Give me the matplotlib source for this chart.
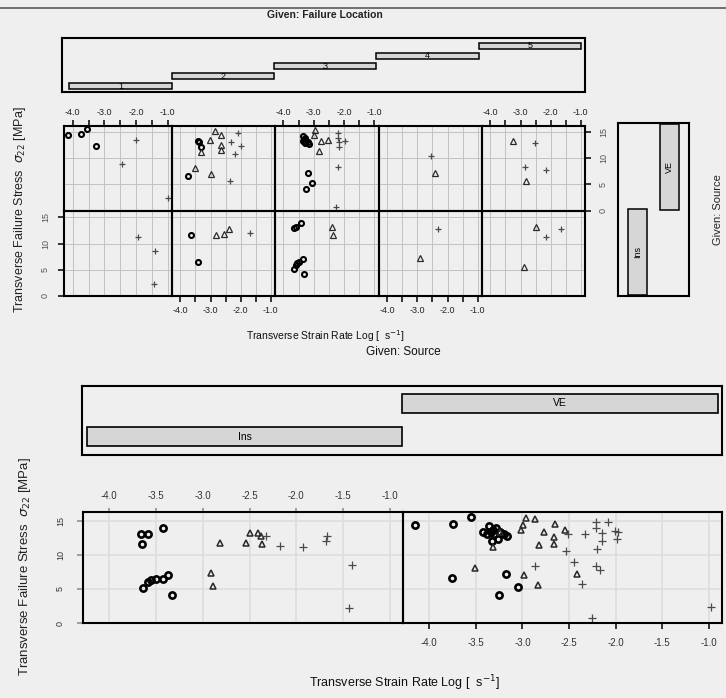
import matplotlib
matplotlib.use("Agg")
import matplotlib.pyplot as plt
from matplotlib.lines import Line2D
import numpy as np

plt.rcParams['font.family'] = ['Liberation Sans', 'DejaVu Sans']
plt.rcParams['axes.unicode_minus'] = False

W, H = 726, 698
PAPER = '#efefef'
STRIP = '#d6d6d6'

# ---------------------------------------------------------------- data
location_levels = [1, 2, 3, 4, 5]
source_levels = ["Ins", "VE"]

# VE source: failure location, specimen kind, log strain rate, failure stress
ve_loc = [1, 1, 1, 1, 1, 1, 1,
          2, 2, 2, 2, 2, 2, 2, 2, 2, 2, 2, 2, 2, 2, 2, 2, 2,
          3, 3, 3, 3, 3, 3, 3, 3, 3, 3, 3, 3, 3, 3, 3, 3, 3, 3, 3, 3, 3, 3, 3,
          4, 4,
          5, 5, 5, 5, 5]
ve_kind = ['o', 'o', 'o', 'o', '+', '+', '+',
           '^', '^', '^', '+', 'o', 'o', 'o', '^', '^', '^', '+', '+', '+', '^', 'o', '^', '+',
           'o', 'o', 'o', 'o', 'o', 'o', 'o', 'o', '^', '^', '^', '^', '^',
           '+', '+', '+', '+', '+', '+', '+', 'o', 'o', 'o',
           '+', '^',
           '^', '+', '+', '+', '^']
ve_rate = [-4.15, -3.74, -3.55, -3.26, -2.01, -2.45, -0.98,
           -2.86, -2.65, -3.01, -2.08, -3.42, -3.38, -3.33, -3.31, -2.66, -2.66, -2.33, -1.99,
           -2.20, -3.51, -3.76, -2.98, -2.36,
           -3.36, -3.32, -3.28, -3.24, -3.30, -3.20, -3.17, -3.34, -2.96, -2.99, -2.77, -2.54,
           -2.82, -2.21, -2.21, -2.15, -1.98, -2.15, -2.21, -2.25, -3.18, -3.05, -3.25,
           -2.53, -2.41,
           -3.24, -2.51, -2.86, -2.17, -2.83]
ve_stress = [14.4, 14.6, 15.6, 12.4, 13.5, 8.9, 2.4,
             15.3, 14.5, 13.6, 14.8, 13.3, 13.1, 12.1, 11.2, 12.6, 11.6, 13.1, 12.4,
             10.9, 8.1, 6.6, 7.0, 5.7,
             14.2, 13.6, 13.9, 13.3, 13.0, 13.1, 12.8, 13.4, 15.4, 14.4, 13.4, 13.6,
             11.4, 14.8, 13.9, 13.2, 13.4, 12.1, 8.4, 0.7, 7.2, 5.3, 4.1,
             10.5, 7.2,
             13.4, 13.0, 8.3, 7.8, 5.6]

# Ins source
ins_loc = [1, 1, 1,
           2, 2, 2, 2, 2, 2,
           3, 3, 3, 3, 3, 3, 3, 3, 3, 3, 3,
           4, 4,
           5, 5, 5, 5]
ins_kind = ['+', '+', '+',
            'o', '^', '^', '^', '+', 'o',
            'o', 'o', 'o', 'o', 'o', 'o', 'o', 'o', 'o', '^', '^',
            '+', '^',
            '^', '+', '+', '^']
ins_rate = [-1.93, -1.41, -1.44,
            -3.65, -2.82, -2.54, -2.38, -1.68, -3.42,
            -3.66, -3.58, -3.42, -3.64, -3.59, -3.55, -3.50, -3.37, -3.33, -2.41, -2.37,
            -2.32, -2.91,
            -2.50, -1.67, -2.17, -2.89]
ins_stress = [11.2, 8.5, 2.2,
              11.6, 11.7, 11.8, 12.8, 12.0, 6.4,
              13.0, 13.1, 13.9, 5.2, 6.0, 6.3, 6.4, 7.0, 4.1, 13.2, 11.6,
              12.8, 7.3,
              13.2, 12.8, 11.3, 5.5]

x_ticks = [-4.0, -3.5, -3.0, -2.5, -2.0, -1.5, -1.0]
y_ticks = [0, 5, 10, 15]
x_range = (-4.28, -0.86)
y_range = (0.0, 16.3)

data = {
    "Ins": (ins_loc, ins_kind, ins_rate, ins_stress),
    "VE": (ve_loc, ve_kind, ve_rate, ve_stress),
}

# ---------------------------------------------------------------- figure
fig = plt.figure(figsize=(W / 100, H / 100), dpi=100)
fig.patch.set_facecolor(PAPER)


def px_axes(l, t, r, b):
    ax = fig.add_axes([l / W, 1 - b / H, (r - l) / W, (b - t) / H])
    ax.set_facecolor('none')
    for s in ax.spines.values():
        s.set_linewidth(1.5)
        s.set_color('black')
    return ax


def ftext(x, y, s, **kw):
    fig.text(x / W, 1 - y / H, s, **kw)


def marker_styles(big):
    k = 1.25 if big else 1.0
    return {
        'o': dict(marker='o', ms=3.6 * k, mfc='none', mec='black', mew=1.5 * k),
        '^': dict(marker='^', ms=4.0 * k, mfc='none', mec='#2a2a2a', mew=0.9 * k),
        '+': dict(marker='+', ms=5.0 * k, mec='#4a4a4a', mew=0.9),
    }


def draw_points(ax, xs, ys, kinds, big):
    for k, st in marker_styles(big).items():
        sel = [i for i, kk in enumerate(kinds) if kk == k]
        if sel:
            ax.plot([xs[i] for i in sel], [ys[i] for i in sel],
                    linestyle='none', **st)


def x_labels(every_half):
    if every_half:
        return [f"{v:.1f}" for v in x_ticks]
    return [f"{v:.1f}" if float(v).is_integer() else "" for v in x_ticks]


def setup_panel(ax, grid_color, grid_lw):
    ax.set_xlim(*x_range)
    ax.set_ylim(*y_range)
    ax.set_xticks(x_ticks)
    ax.set_yticks(y_ticks)
    ax.grid(True, color=grid_color, lw=grid_lw)
    ax.set_axisbelow(True)
    ax.tick_params(which='both', top=False, bottom=False, left=False, right=False,
                   labeltop=False, labelbottom=False, labelleft=False, labelright=False,
                   direction='out', length=4, width=1.1, colors='black')


# top line of the page
fig.add_artist(Line2D([0, 1], [1 - 8 / H] * 2, color='#5a5a5a', lw=1.2))

# =============================================== coplot 1: location x source
ftext(325, 15, "Given: Failure Location", ha='center', va='center',
      fontsize=7.5, fontweight='bold', color='#222')

# strip for the failure location
sax = px_axes(62, 38, 585, 92)
sax.set_xlim(0.43, 5.54)
sax.set_ylim(0, 54)
loc_centers = [5.7 + 10.1 * i for i in range(len(location_levels))]
sax.barh(loc_centers, [1] * len(location_levels),
         left=[v - 0.5 for v in location_levels], height=6,
         color=STRIP, edgecolor='black', linewidth=1.1)
for v, c in zip(location_levels, loc_centers):
    sax.text(v, c, str(v), ha='center', va='center', fontsize=6.5)
sax.set_xticks([])
sax.set_yticks([])

# panel grid
col_edges = [64, 172, 275, 378.5, 482, 585]
row_edges = {"Ins": (210.5, 296), "VE": (125.5, 210.5)}

for src in source_levels:
    locs, kinds, xs, ys = data[src]
    top, bot = row_edges[src]
    for ci, loc in enumerate(location_levels):
        ax = px_axes(col_edges[ci], top, col_edges[ci + 1], bot)
        setup_panel(ax, '#c2c2c2', 0.7)
        sel = [i for i, l in enumerate(locs) if l == loc]
        draw_points(ax, [xs[i] for i in sel], [ys[i] for i in sel],
                    [kinds[i] for i in sel], big=False)
        ax.set_xticklabels(x_labels(False), fontsize=6.5, color='#222')
        ax.set_yticklabels([str(v) for v in y_ticks], fontsize=6.5, color='#555',
                           rotation=90, va='center')
        if src == "VE" and ci % 2 == 0:
            ax.tick_params(axis='x', top=True, labeltop=True, pad=2)
        if src == "Ins" and ci % 2 == 1:
            ax.tick_params(axis='x', bottom=True, labelbottom=True, pad=3)
        if src == "Ins" and ci == 0:
            ax.tick_params(axis='y', left=True, labelleft=True, pad=6)
        if src == "VE" and ci == len(location_levels) - 1:
            ax.tick_params(axis='y', right=True, labelright=True, pad=6)

# strip for the source (vertical)
vax = px_axes(618, 123, 689, 296)
vax.set_xlim(0, 1)
vax.set_ylim(0.49, 2.51)
src_pos = [1, 2]
src_x = [0.275, 0.72]
vax.bar(src_x, [1, 1], bottom=[p - 0.5 for p in src_pos], width=0.27,
        color=STRIP, edgecolor='black', linewidth=1.1)
for lab, xc, p in zip(source_levels, src_x, src_pos):
    vax.text(xc, p, lab, ha='center', va='center', rotation=90, fontsize=6.5)
vax.set_xticks([])
vax.set_yticks([])
ftext(718, 210, "Given: Source", rotation=90, ha='center', va='center',
      fontsize=8, color='#222')

ftext(20, 210, r"Transverse Failure Stress  $\sigma_{22}$ [MPa]", rotation=90,
      ha='center', va='center', fontsize=9, color='#222')
ftext(325, 336, r"Transverse Strain Rate Log [  s$^{-1}$]", ha='center', va='center',
      fontsize=7.5, color='#111')

# =============================================== coplot 2: source only
ftext(403, 352, "Given: Source", ha='center', va='center', fontsize=8.5, color='#111')

bax = px_axes(82, 386, 722, 455)
bax.set_xlim(0.484, 2.513)
bax.set_ylim(0, 69)
src_y = [18.5, 52]
bax.barh(src_y, [1, 1], left=[p - 0.5 for p in src_pos], height=19,
         color=STRIP, edgecolor='black', linewidth=1.2)
for lab, yc, p in zip(source_levels, src_y, src_pos):
    bax.text(p, yc, lab, ha='center', va='center', fontsize=7.5)
bax.set_xticks([])
bax.set_yticks([])

panel_x = {"Ins": (83, 403), "VE": (403, 722)}
for src in source_levels:
    locs, kinds, xs, ys = data[src]
    l, r = panel_x[src]
    ax = px_axes(l, 512, r, 623)
    setup_panel(ax, '#dedede', 1.2)
    draw_points(ax, xs, ys, kinds, big=True)
    ax.set_xticklabels(x_labels(True), fontsize=7, color='#333')
    ax.set_yticklabels([str(v) for v in y_ticks], fontsize=6.5, color='#555',
                       rotation=90, va='center')
    if src == "Ins":
        ax.tick_params(axis='x', top=True, labeltop=True, pad=5, length=3, colors='#888')
        ax.tick_params(axis='y', left=True, labelleft=True, pad=9, length=4, colors='#888')
        for t in ax.get_xticklabels() + ax.get_yticklabels():
            t.set_color('#333')
    else:
        ax.tick_params(axis='x', bottom=True, labelbottom=True, pad=7, length=4)
        for t in ax.get_xticklabels():
            t.set_color('#333')

ftext(25, 567, r"Transverse Failure Stress  $\sigma_{22}$ [MPa]", rotation=90,
      ha='center', va='center', fontsize=9.5, color='#222')
ftext(404, 683, r"Transverse Strain Rate Log [  s$^{-1}$]", ha='center', va='center',
      fontsize=9, color='#111')

fig.savefig("out.png", dpi=100, facecolor=PAPER)
